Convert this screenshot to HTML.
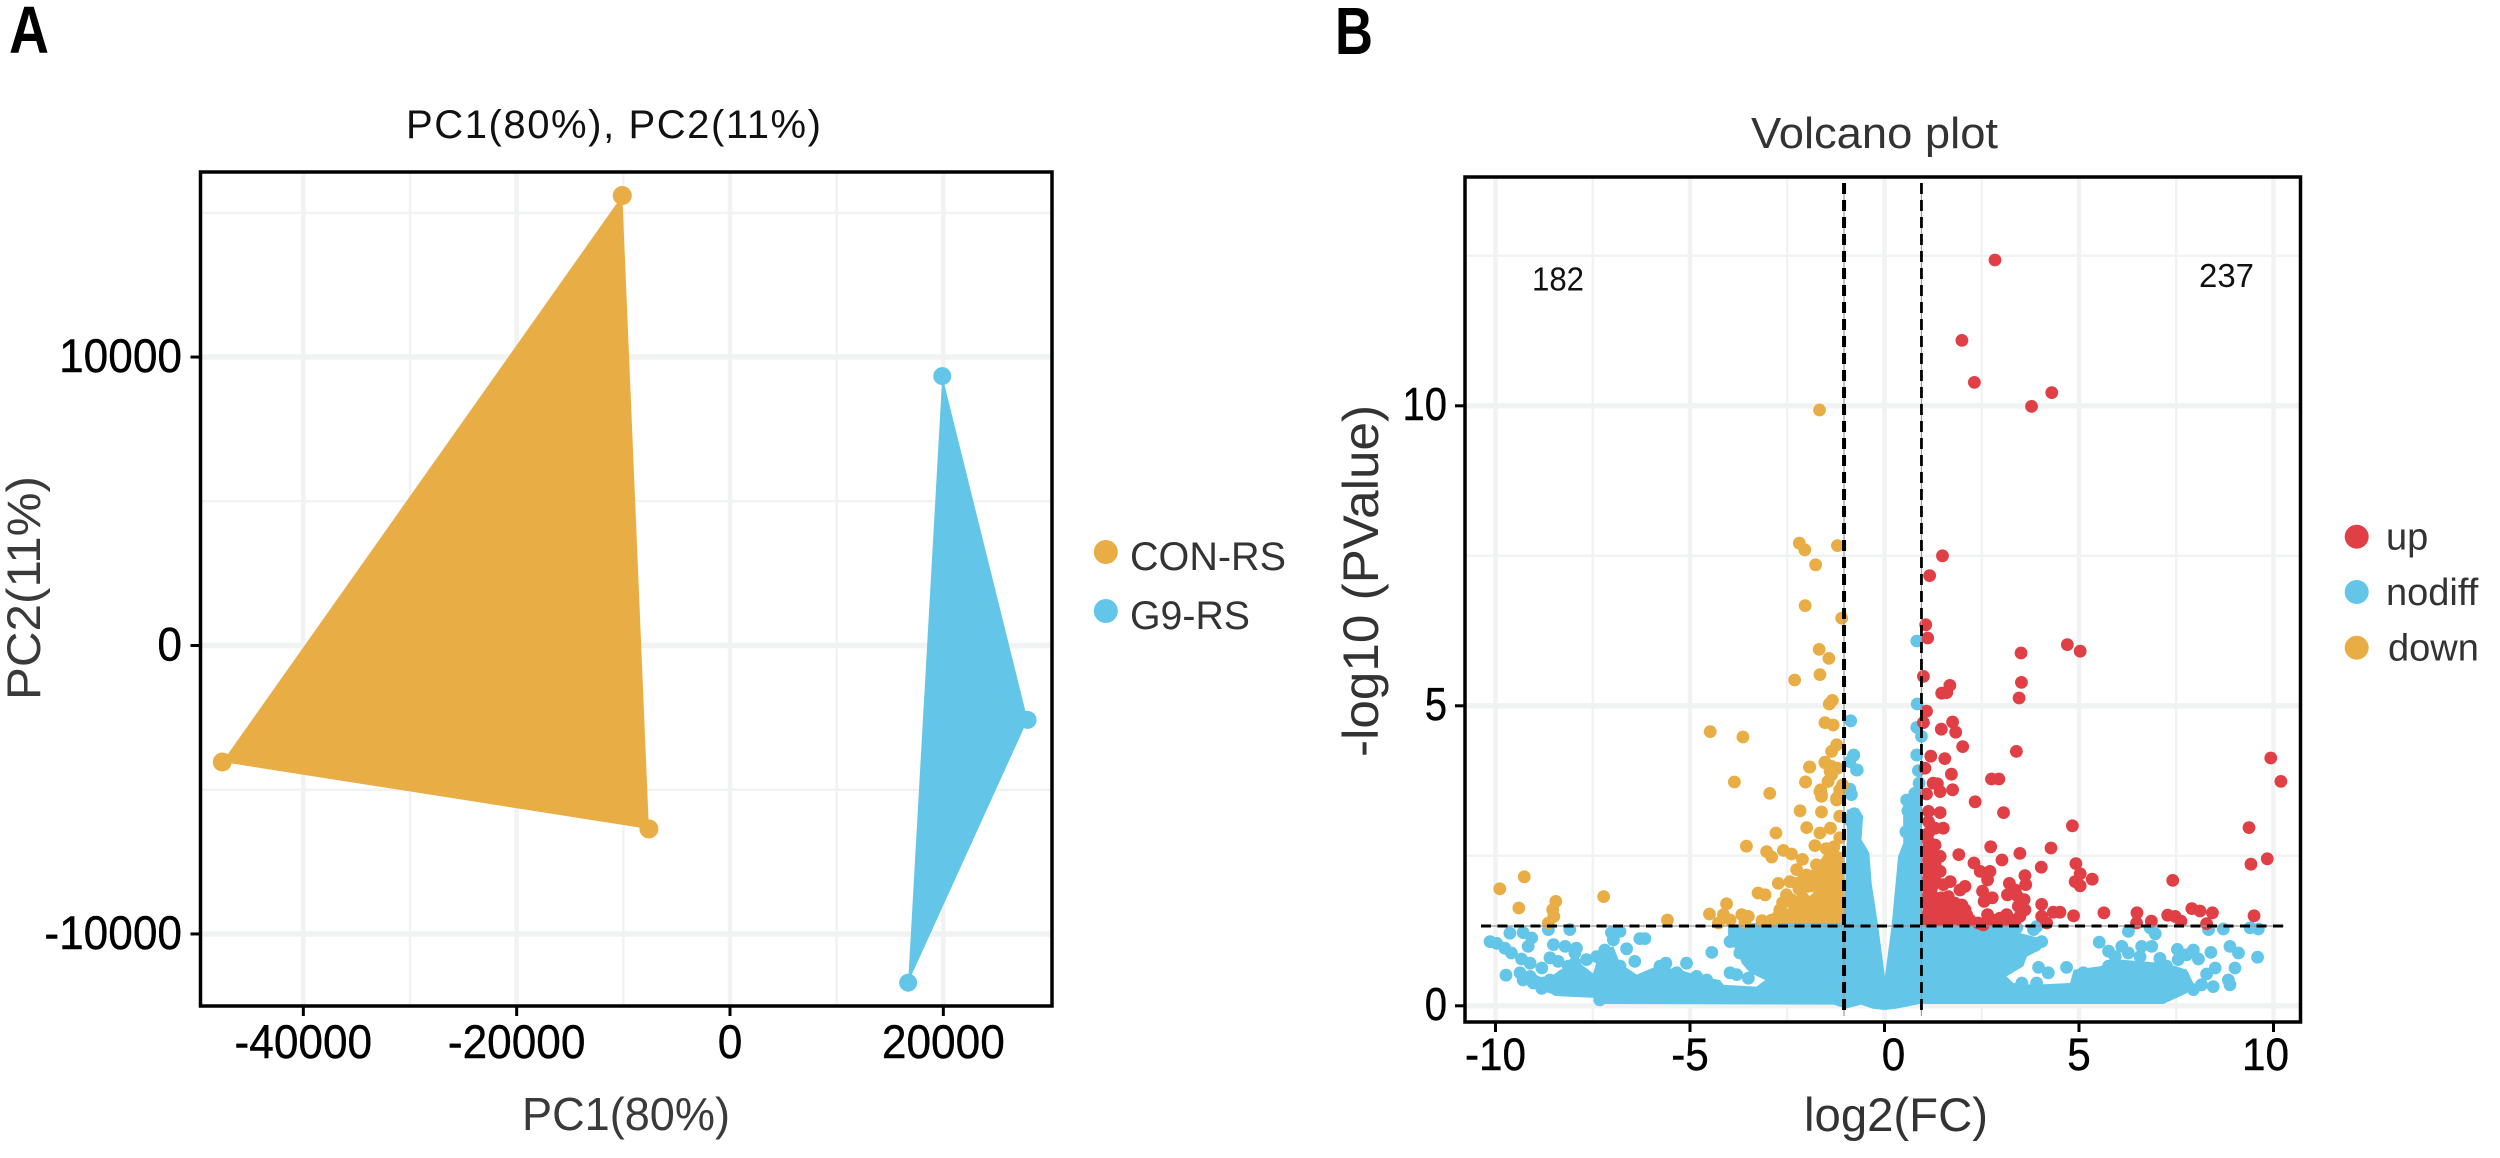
<!DOCTYPE html>
<html lang="en">
<head>
<meta charset="utf-8">
<title>PCA and volcano plot</title>
<style>
html,body{margin:0;padding:0;background:#fff;width:2500px;height:1158px;overflow:hidden}
svg{display:block}
text{font-family:"Liberation Sans",Arial,sans-serif}
</style>
</head>
<body>
<svg id="figure" xmlns="http://www.w3.org/2000/svg" width="2500" height="1158" viewBox="0 0 2500 1158">
  <rect x="0" y="0" width="2500" height="1158" fill="#ffffff"/>
  <text x="9" y="53" font-size="67" font-weight="700" fill="#000" textLength="40" lengthAdjust="spacingAndGlyphs">A</text>
  <text x="1335" y="54" font-size="67" font-weight="700" fill="#000" textLength="38" lengthAdjust="spacingAndGlyphs">B</text>

  <g id="panelA"></g>
  <g id="panelB"></g>

  <text x="406" y="138" font-size="40" fill="#111" textLength="415">PC1(80%), PC2(11%)</text>
  <text x="626" y="1130" font-size="46" fill="#3a3a3a" text-anchor="middle" textLength="208" lengthAdjust="spacingAndGlyphs">PC1(80%)</text>
  <text x="40" y="588" font-size="47" fill="#3a3a3a" text-anchor="middle" transform="rotate(-90 40 588)" textLength="224" lengthAdjust="spacingAndGlyphs">PC2(11%)</text>

  <g>
    <circle cx="1105.8" cy="552" r="12" fill="#E9AD45"/>
    <text x="1130" y="570" font-size="40" fill="#333" textLength="156" lengthAdjust="spacingAndGlyphs">CON-RS</text>
    <circle cx="1105.8" cy="611" r="12" fill="#63C6E8"/>
    <text x="1130" y="629" font-size="40" fill="#333" textLength="120" lengthAdjust="spacingAndGlyphs">G9-RS</text>
  </g>

  <text x="1751" y="148" font-size="44" fill="#333" textLength="247" lengthAdjust="spacingAndGlyphs">Volcano plot</text>
  <text x="1896" y="1131" font-size="47" fill="#333" text-anchor="middle" textLength="184" lengthAdjust="spacingAndGlyphs">log2(FC)</text>
  <text x="1378" y="581" font-size="50" fill="#333" text-anchor="middle" transform="rotate(-90 1378 581)" textLength="352" lengthAdjust="spacingAndGlyphs">-log10 (PValue)</text>
  <text x="1532" y="290.5" font-size="33" fill="#111" textLength="52" lengthAdjust="spacingAndGlyphs">182</text>
  <text x="2199" y="287" font-size="33" fill="#111" textLength="55" lengthAdjust="spacingAndGlyphs">237</text>

  <g>
    <circle cx="2356.7" cy="536.7" r="12" fill="#DF3F45"/>
    <text x="2386" y="549.3" font-size="38" fill="#333">up</text>
    <circle cx="2356.7" cy="592" r="12" fill="#63C6E8"/>
    <text x="2386" y="605" font-size="38" fill="#333">nodiff</text>
    <circle cx="2356.7" cy="647.7" r="12" fill="#E9AD45"/>
    <text x="2388" y="660.7" font-size="38" fill="#333">down</text>
  </g>
</svg>
<script>
/* ---------- PCA data (values in data units) ---------- */
const pcaXMajor = [-40000, -20000, 0, 20000];
const pcaXMinor = [-30000, -10000, 10000];
const pcaYMajor = [-10000, 0, 10000];
const pcaYMinor = [-5000, 5000, 15000];
const conRsPC1 = [-47600, -10100, -7600];
const conRsPC2 = [-4040, 15600, -6360];
const g9RsPC1 = [19900, 27900, 16700];
const g9RsPC2 = [9340, -2580, -11690];

/* ---------- Volcano data (log2FC, -log10 P) ---------- */
const volXMajor = [-10, -5, 0, 5, 10];
const volXMinor = [-7.5, -2.5, 2.5, 7.5];
const volYMajor = [0, 5, 10];
const volYMinor = [2.5, 7.5, 12.5];
const fcCutoffs = [-1.04, 0.95];
const pCutoff = [1.33];

const nodiffCore = [[-7.4,0.03],[-7.4,0.13],[-8.34,0.16],[-9.03,0.29],[-9.37,0.43],[-9.11,0.57],[-8.69,0.43],[-8.34,0.6],[-7.83,0.71],[-7.49,0.54],[-7.32,0.93],[-6.97,0.99],[-6.8,0.71],[-6.37,0.52],[-5.86,0.66],[-5.26,0.6],[-4.74,0.49],[-4.23,0.43],[-4.14,0.35],[-3.29,0.32],[-3.07,0.43],[-3.46,0.55],[-3.67,0.71],[-3.8,0.93],[-4.02,1.07],[-4.02,1.32],[-3.37,1.38],[-1.04,1.38],[-0.97,2.79],[-0.97,3.27],[-0.67,3.29],[-0.55,3.16],[-0.59,2.77],[-0.39,2.55],[-0.33,2.04],[-0.16,1.32],[0.01,0.49],[0.18,1.32],[0.35,2.49],[0.48,2.71],[0.48,3.04],[0.48,3.43],[0.74,3.63],[0.95,3.8],[0.96,1.38],[3.27,1.38],[3.31,1.24],[4.17,1.1],[4.0,0.93],[3.66,0.82],[3.57,0.66],[3.14,0.49],[3.31,0.38],[3.83,0.35],[4.77,0.38],[4.86,0.6],[5.54,0.66],[6.06,0.77],[7.25,0.71],[7.77,0.6],[7.94,0.38],[7.77,0.21],[7.17,0.03],[0.9,0.03],[0.3,-0.05],[0,-0.07],[-0.3,-0.05],[-0.6,0.02],[-1.0,-0.05],[-1.3,0.02]];

const nodiffPoints = [[-10.14,1.07],[-9.97,1.04],[-9.76,0.96],[-9.63,1.21],[-9.59,0.88],[-9.29,1.22],[-9.16,0.99],[-9.07,1.13],[-9.33,0.78],[-9.11,0.71],[-8.64,1.27],[-8.51,1.02],[-8.21,0.99],[-8.09,1.27],[-7.92,0.96],[-7.96,0.88],[-8.6,0.8],[-8.39,0.74],[-8.81,0.63],[-9.73,0.51],[-9.37,0.55],[-9.11,0.49],[-8.77,0.38],[-9.03,0.38],[-9.29,0.43],[-8.81,0.29],[-8.6,0.43],[-8.43,0.27],[-8.13,0.66],[-7.96,0.71],[-7.66,0.77],[-7.4,0.82],[-7.19,0.93],[-6.97,1.1],[-6.8,1.24],[-7.02,1.22],[-6.63,0.95],[-6.29,1.12],[-6.16,1.12],[-6.42,0.74],[-6.8,0.66],[-5.77,0.66],[-5.62,0.71],[-5.09,0.71],[-5.34,0.55],[-4.44,0.89],[-3.97,0.55],[-3.8,0.52],[-3.5,0.46],[-3.97,1.07],[-3.72,0.88],[-4.57,0.43],[-7.32,0.1],[-4.83,0.49],
[3.4,1.3],[3.83,1.27],[3.91,1.32],[3.48,1.07],[4.04,1.07],[3.96,0.64],[4.21,0.55],[4.68,0.64],[3.53,0.38],[3.91,0.38],[5.52,1.06],[5.76,0.91],[5.93,0.82],[6.1,0.99],[6.27,0.88],[6.27,1.24],[6.61,0.99],[6.87,0.99],[6.96,1.2],[6.83,1.3],[6.57,0.82],[7.08,0.79],[7.53,0.94],[7.55,0.77],[7.94,0.93],[7.77,0.85],[8.07,0.78],[8.39,0.89],[8.33,1.27],[8.71,1.28],[9.4,1.3],[9.61,1.28],[8.88,0.99],[9.1,0.88],[9.59,0.81],[9.01,0.63],[8.5,0.63],[8.28,0.53],[8.84,0.43],[8.88,0.35],[8.45,0.32],[8.15,0.35],[7.94,0.27],[7.68,0.49],[7.25,0.66],[5.76,0.66],[5.11,0.55],
[0.83,6.08],[0.84,5.03],[-0.87,4.75],[0.83,4.64],[0.95,4.49],[0.83,4.18],[-0.8,4.17],[-0.89,4.07],[-0.7,3.93],[0.87,3.92],[0.89,3.71],[-0.89,3.61],[-0.85,3.52],[0.78,3.54],[0.57,3.43],[-0.79,4.18],[-0.72,3.93],[0.83,4.18],[-0.78,3.2],[-0.9,3.1],[0.6,3.25],[0.55,2.9]];

const downCore = [[-1.06,1.38],[-2.69,1.38],[-2.39,1.66],[-2.17,1.71],[-1.83,1.88],[-1.7,2.38],[-1.44,2.63],[-1.06,2.55]];

const downPoints = [[-1.67,9.93],[-2.19,7.71],[-2.05,7.6],[-1.21,7.67],[-1.77,7.35],[-2.04,6.67],[-1.1,6.46],[-1.68,5.94],[-1.43,5.79],[-1.66,5.52],[-2.31,5.43],[-1.34,5.09],[-1.42,5.03],[-1.53,4.72],[-1.32,4.68],[-4.48,4.57],[-3.64,4.48],[-1.23,4.35],[-1.36,4.24],[-1.53,4.06],[-1.36,3.99],[-1.21,3.96],[-1.92,3.98],[-1.36,3.85],[-1.45,3.74],[-2.03,3.73],[-3.86,3.73],[-2.95,3.54],[-1.64,3.6],[-1.62,3.52],[-1.08,3.68],[-1.15,3.54],[-1.23,3.46],
[-9.89,1.95],[-9.26,2.15],[-9.4,1.63],[-8.45,1.74],[-8.53,1.6],[-8.5,1.49],[-8.64,1.38],[-7.22,1.82],[-5.58,1.43],[-4.5,1.53],[-4.06,1.7],[-4.14,1.52],[-4.27,1.38],[-3.97,1.43],[-3.67,1.52],[-3.5,1.49],[-3.59,1.39],[-3.25,1.88],[-3.07,1.85],[-2.9,1.43],[-2.69,1.6],[-2.52,1.52],[-2.73,2.04],[-3.55,2.66],[-2.79,2.88],[-3.03,2.57],[-2.9,2.48],[-2.6,2.59],[-2.39,2.53],[-2.11,2.44],[-2.26,2.27],[-2.43,2.07],[-2.0,2.18],[-2.52,1.85],[-2.17,3.25],[-1.62,3.23],[-2.0,2.97],[-1.66,2.88],[-1.39,2.96],[-1.79,2.67],[-2.03,3.73],[-1.66,3.57],[-1.62,3.49],[-1.93,3.98],[-1.53,4.05],[-1.4,3.91],[-1.45,3.74],[-1.23,3.43],[-1.15,3.6],[-1.15,3.16],[-1.15,2.8],[-1.5,2.62],[-1.3,2.65],[-1.75,2.35],[-1.85,2.0],[-2.1,1.8],[-2.35,1.7],
[-2.26,2.04],[-1.96,1.99],[-2.39,1.77],[-1.83,2.16],[-1.57,2.18],[-2.62,1.72],[-2.2,1.95],[-2.08,2.12],[-2.75,1.48],[-3.15,1.42]];

const upCore = [[0.98,1.35],[0.98,2.85],[1.3,2.7],[1.45,2.4],[1.45,2.1],[1.35,1.9],[1.6,1.8],[1.75,1.35]];

const upPoints = [[2.84,12.43],[1.99,11.09],[2.31,10.39],[4.3,10.22],[3.78,9.99],[1.49,7.5],[1.16,7.17],[1.06,6.35],[1.11,6.13],[3.51,5.88],[4.7,6.02],[5.03,5.91],[1.0,5.49],[3.52,5.39],[1.68,5.34],[1.6,5.22],[1.47,5.21],[3.46,5.13],[1.08,4.91],[1.0,4.72],[1.75,4.73],[1.46,4.61],[1.83,4.56],[2.01,4.32],[3.39,4.24],[1.19,4.16],[1.55,4.12],[1.04,3.96],[1.72,3.86],[2.75,3.78],[2.94,3.78],[1.25,3.71],[1.36,3.7],[1.43,3.57],[1.75,3.6],[1.08,3.53],[2.33,3.4],
[9.93,4.13],[10.19,3.74],[3.06,3.22],[4.83,3.0],[9.37,2.97],[2.73,2.65],[1.91,2.52],[3.02,2.43],[3.48,2.54],[4.28,2.63],[9.84,2.45],[9.42,2.36],[4.03,2.31],[4.92,2.37],[5.03,2.2],[4.9,2.07],[5.03,2.0],[5.34,2.11],[7.41,2.09],[2.3,2.38],[2.46,2.24],[2.71,2.24],[2.65,2.1],[3.61,2.17],[3.63,2.02],[3.21,2.04],[3.36,1.93],[3.16,1.85],[3.4,1.84],[3.59,1.77],[3.44,1.66],[3.61,1.6],[3.48,1.49],[2.52,1.91],[2.56,1.74],[2.77,1.8],[2.07,1.99],[1.94,1.93],[1.81,1.71],[2.07,1.6],[2.11,1.52],[2.65,1.52],[2.97,1.46],[3.14,1.52],[2.41,1.38],[2.54,1.35],[4.04,1.69],[4.04,1.49],[4.17,1.38],[4.34,1.56],[4.51,1.56],[4.86,1.5],[5.64,1.55],[6.49,1.55],[6.48,1.38],[6.86,1.41],[7.28,1.51],[7.47,1.49],[7.62,1.41],[7.9,1.62],[8.11,1.58],[8.43,1.55],[8.28,1.37],[9.5,1.5],[1.69,2.07],
[1.13,3.24],[1.43,3.22],[1.13,3.07],[1.51,2.96],[1.3,2.96],[1.13,2.88],[1.13,2.74],[1.3,2.68],[1.17,2.57],[1.43,2.49],[1.13,2.43],[1.3,2.38],[1.13,2.27],[1.43,2.24],[1.13,2.13],[1.3,2.07],[1.13,1.99],[1.51,2.02],[1.13,1.85],[1.47,1.8],[1.13,1.71],[1.3,1.66],[1.13,1.55],[1.43,1.55],[1.69,1.55],[1.9,1.55],[1.13,1.43],[1.43,1.43],[1.69,1.43],[1.94,1.43],[2.2,1.43],[1.51,1.68],[1.99,1.68],[1.64,1.82],[2.71,1.43],[2.88,1.43],[3.14,1.43],[3.36,1.43]];

/* ---------- axis functions ---------- */
const pcaX = v => 730 + v * 640 / 60000;
const pcaY = v => 645.5 - v * 576.9 / 20000;
const volX = v => 1884.5 + v * 38.9;
const volY = v => 1005.8 - v * 60;
const POINT_R = 6.4;

const NS = 'http://www.w3.org/2000/svg';
const panelA = document.getElementById('panelA');
const panelB = document.getElementById('panelB');

function make(parent, tag, attrs) {
  const el = document.createElementNS(NS, tag);
  for (const k in attrs) el.setAttribute(k, attrs[k]);
  parent.appendChild(el);
  return el;
}
function outline(points, fx, fy) {
  return points.map(p => fx(p[0]).toFixed(1) + ',' + fy(p[1]).toFixed(1)).join(' ');
}
function squeeze(el, k) {
  el.setAttribute('textLength', (el.getComputedTextLength() * k).toFixed(1));
  el.setAttribute('lengthAdjust', 'spacingAndGlyphs');
}
/* the reference's centre and right labels sit slightly off their ticks */
function volLabelShift(v) {
  return v === 0 ? 9 : (v === 10 ? -8 : 0);
}

const GRID = '#f1f3f3';

/* ---------- Panel A ---------- */
const aLeft = 200.5, aRight = 1052, aTop = 172, aBottom = 1006;
pcaXMinor.forEach(v => {
  const l = make(panelA, 'line', {x1: pcaX(v), x2: pcaX(v), y1: aTop, y2: aBottom, stroke: GRID, 'stroke-width': 2.5});
  
  
});
pcaYMinor.forEach(v => {
  const l = make(panelA, 'line', {x1: aLeft, x2: aRight, y1: pcaY(v), y2: pcaY(v), stroke: GRID, 'stroke-width': 2.5});
  
  
});
pcaXMajor.forEach(v => {
  const l = make(panelA, 'line', {x1: pcaX(v), x2: pcaX(v), y1: aTop, y2: aBottom, stroke: GRID, 'stroke-width': 4.5});
  
  
});
pcaYMajor.forEach(v => {
  const l = make(panelA, 'line', {x1: aLeft, x2: aRight, y1: pcaY(v), y2: pcaY(v), stroke: GRID, 'stroke-width': 5.5});
  
  
});

const conPts = conRsPC1.map((x, i) => [x, conRsPC2[i]]);
const g9Pts = g9RsPC1.map((x, i) => [x, g9RsPC2[i]]);
const conPoly = make(panelA, 'polygon', {points: outline(conPts, pcaX, pcaY), fill: '#E9AD45'});


const g9Poly = make(panelA, 'polygon', {points: outline(g9Pts, pcaX, pcaY), fill: '#63C6E8'});


conPts.forEach(p => {
  const c = make(panelA, 'circle', {cx: pcaX(p[0]), cy: pcaY(p[1]), r: 9.5, fill: '#E9AD45'});
  
  
});
g9Pts.forEach(p => {
  const c = make(panelA, 'circle', {cx: pcaX(p[0]), cy: pcaY(p[1]), r: 9, fill: '#63C6E8'});
  
  
});

const aFrame = make(panelA, 'rect', {x: aLeft, y: aTop, width: aRight - aLeft, height: aBottom - aTop, fill: 'none', stroke: '#000', 'stroke-width': 3.5});



pcaXMajor.forEach(v => {
  const t = make(panelA, 'line', {x1: pcaX(v), x2: pcaX(v), y1: aBottom, y2: aBottom + 10, stroke: '#000', 'stroke-width': 3});
  
  
  const lab = make(panelA, 'text', {x: pcaX(v), y: 1058, 'font-size': 47, 'text-anchor': 'middle', fill: '#000', stroke: '#000', 'stroke-width': 0.4});
  lab.textContent = String(v);
  
  
  squeeze(lab, 0.94);
});
pcaYMajor.forEach(v => {
  const t = make(panelA, 'line', {x1: aLeft - 10, x2: aLeft, y1: pcaY(v), y2: pcaY(v), stroke: '#000', 'stroke-width': 3});
  
  
  const lab = make(panelA, 'text', {x: 182, y: pcaY(v) + 15, 'font-size': 47, 'text-anchor': 'end', fill: '#000', stroke: '#000', 'stroke-width': 0.4});
  lab.textContent = String(v);
  
  
  squeeze(lab, 0.94);
});

/* ---------- Panel B ---------- */
const bLeft = 1465, bRight = 2300.5, bTop = 177, bBottom = 1022;
volXMinor.forEach(v => {
  const l = make(panelB, 'line', {x1: volX(v), x2: volX(v), y1: bTop, y2: bBottom, stroke: GRID, 'stroke-width': 2.5});
  
  
});
volYMinor.forEach(v => {
  const l = make(panelB, 'line', {x1: bLeft, x2: bRight, y1: volY(v), y2: volY(v), stroke: GRID, 'stroke-width': 2.5});
  
  
});
volXMajor.forEach(v => {
  const l = make(panelB, 'line', {x1: volX(v), x2: volX(v), y1: bTop, y2: bBottom, stroke: GRID, 'stroke-width': 4.5});
  
  
});
volYMajor.forEach(v => {
  const l = make(panelB, 'line', {x1: bLeft, x2: bRight, y1: volY(v), y2: volY(v), stroke: GRID, 'stroke-width': 5.5});
  
  
});

const nodiffMass = make(panelB, 'polygon', {points: outline(nodiffCore, volX, volY), fill: '#63C6E8'});


nodiffPoints.forEach(p => {
  const c = make(panelB, 'circle', {cx: volX(p[0]), cy: volY(p[1]), r: POINT_R, fill: '#63C6E8'});
  
  
});
const upMass = make(panelB, 'polygon', {points: outline(upCore, volX, volY), fill: '#DF3F45'});


upPoints.forEach(p => {
  const c = make(panelB, 'circle', {cx: volX(p[0]), cy: volY(p[1]), r: POINT_R, fill: '#DF3F45'});
  
  
});
const downMass = make(panelB, 'polygon', {points: outline(downCore, volX, volY), fill: '#E9AD45'});


downPoints.forEach(p => {
  const c = make(panelB, 'circle', {cx: volX(p[0]), cy: volY(p[1]), r: POINT_R, fill: '#E9AD45'});
  
  
});

fcCutoffs.forEach((v, i) => {
  const u = make(panelB, 'line', {x1: volX(v), x2: volX(v), y1: 183, y2: 1016, stroke: '#9a9a9a', 'stroke-width': 1.2});
  
  
  const l = make(panelB, 'line', {x1: volX(v), x2: volX(v), y1: 183, y2: 1016, stroke: '#000', 'stroke-width': i === 0 ? 4 : 2.8, 'stroke-dasharray': '11 6'});
  
  
});
pCutoff.forEach(v => {
  const u = make(panelB, 'line', {x1: 1481, x2: 2284, y1: volY(v), y2: volY(v), stroke: '#9a9a9a', 'stroke-width': 1.2});
  
  
  const l = make(panelB, 'line', {x1: 1481, x2: 2284, y1: volY(v), y2: volY(v), stroke: '#000', 'stroke-width': 3, 'stroke-dasharray': '10 6.5'});
  
  
});

const bFrame = make(panelB, 'rect', {x: bLeft, y: bTop, width: bRight - bLeft, height: bBottom - bTop, fill: 'none', stroke: '#000', 'stroke-width': 3.5});



volXMajor.forEach(v => {
  const t = make(panelB, 'line', {x1: volX(v), x2: volX(v), y1: bBottom, y2: bBottom + 10, stroke: '#000', 'stroke-width': 3});
  
  
  const lab = make(panelB, 'text', {x: volX(v) + volLabelShift(v), y: 1070, 'font-size': 45, 'text-anchor': 'middle', fill: '#000', stroke: '#000', 'stroke-width': 0.4});
  lab.textContent = String(v);
  
  
  squeeze(lab, 0.94);
});
volYMajor.forEach(v => {
  const t = make(panelB, 'line', {x1: bLeft - 10, x2: bLeft, y1: volY(v), y2: volY(v), stroke: '#000', 'stroke-width': 3});
  
  
  const lab = make(panelB, 'text', {x: 1447, y: volY(v) + 14, 'font-size': 46, 'text-anchor': 'end', fill: '#000', stroke: '#000', 'stroke-width': 0.4});
  lab.textContent = String(v);
  
  
  squeeze(lab, 0.87);
});
</script>
</body>
</html>
